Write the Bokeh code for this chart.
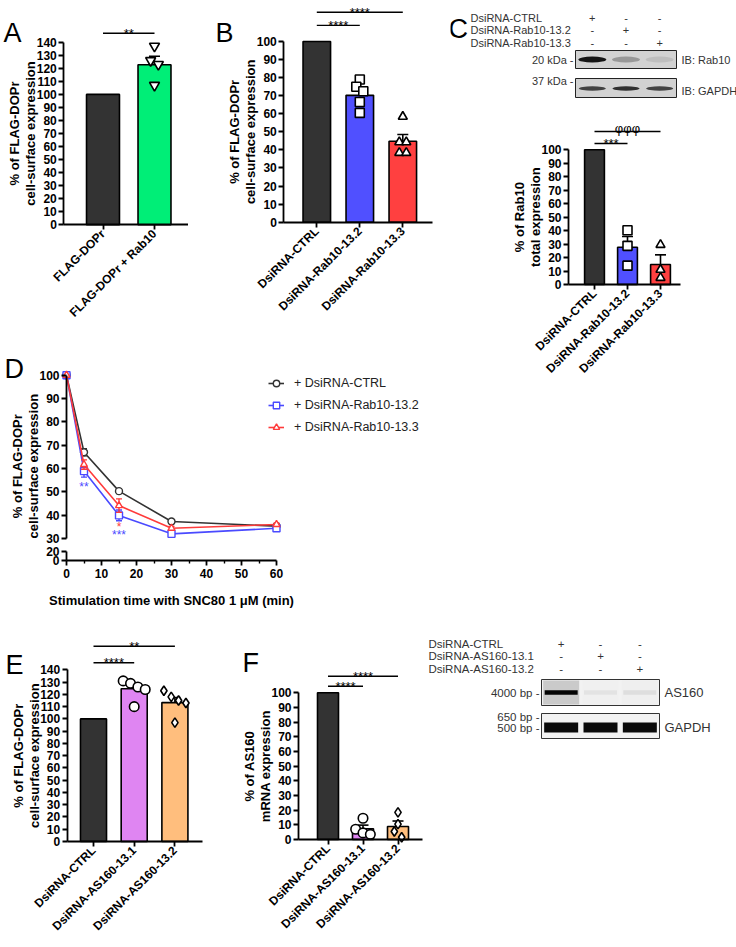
import math
from bokeh.plotting import figure
from bokeh.models import Range1d, FixedTicker, LinearAxis, Legend, LegendItem
from bokeh.layouts import row, column
from bokeh.embed import file_html
from bokeh.resources import INLINE
from bokeh.core.properties import value

FONT = "Liberation Sans"

# ---------------- data ----------------
A_GROUPS = ["FLAG-DOPr", "FLAG-DOPr + Rab10"]
A_MEANS = [100, 122.7]
A_SEMS = [0, 6.6]
A_POINTS = [[], [137, 126, 123, 107]]
A_SIG = [(0, 1, "**")]

B_GROUPS = ["DsiRNA-CTRL", "DsiRNA-Rab10-13.2", "DsiRNA-Rab10-13.3"]
B_MEANS = [100, 70.2, 44.8]
B_SEMS = [0, 3.4, 3.7]
B_POINTS = [[], [79, 75, 72.5, 66.5, 60.5], [58.4, 44.3, 44.3, 38.4, 38.4]]
B_SIG = [(0, 1, "****"), (0, 2, "****")]

C_GROUPS = ["DsiRNA-CTRL", "DsiRNA-Rab10-13.2", "DsiRNA-Rab10-13.3"]
C_MEANS = [100, 27.6, 14.8]
C_SEMS = [0, 8.0, 7.2]
C_POINTS = [[], [40.3, 28.7, 14.0], [29.5, 11.0, 5.0]]
C_SIG = [(0, 1, "***"), (0, 2, "φφφ")]
C_RAB10_BAND = [1.0, 0.30, 0.10]
C_GAPDH_BAND = [0.80, 0.90, 0.80]

D_TIME = [0, 5, 15, 30, 60]
D_NAMES = ["+ DsiRNA-CTRL", "+ DsiRNA-Rab10-13.2", "+ DsiRNA-Rab10-13.3"]
D_CTRL = [100, 67.0, 50.3, 37.3, 35.3]
D_CTRL_SEM = [0, 1.5, 1.0, 0.6, 0.7]
D_R132 = [100, 58.9, 39.9, 32.0, 34.4]
D_R132_SEM = [0, 2.6, 2.3, 0.6, 0.6]
D_R133 = [100, 61.7, 44.1, 34.4, 36.0]
D_R133_SEM = [0, 2.0, 2.9, 0.8, 0.6]
D_STAR_TIME = [5, 15, 15]
D_STAR_LEVEL = [52.0, 34.8, 31.7]
D_STAR_TEXT = ["**", "*", "***"]
D_STAR_SERIES = [1, 2, 1]

E_GROUPS = ["DsiRNA-CTRL", "DsiRNA-AS160-13.1", "DsiRNA-AS160-13.2"]
E_MEANS = [100, 124.6, 113.3]
E_SEMS = [0, 3.6, 4.2]
E_POINTS = [[], [131, 129, 126, 124, 110], [123, 118, 115, 113, 97]]
E_SIG = [(0, 1, "****"), (0, 2, "**")]

F_GROUPS = ["DsiRNA-CTRL", "DsiRNA-AS160-13.1", "DsiRNA-AS160-13.2"]
F_MEANS = [100, 7.3, 8.9]
F_SEMS = [0, 2.5, 3.7]
F_POINTS = [[], [14.5, 7.0, 4.5, 3.5], [18.5, 10.5, 5.5, 1.5]]
F_SIG = [(0, 1, "****"), (0, 2, "****")]
F_AS160_BAND = [1.0, 0.05, 0.07]
F_GAPDH_BAND = [1.0, 1.0, 1.0]

# ---------------- helpers ----------------
DARK = "#333333"


def base_fig(width, height, xr, yr):
    p = figure(width=width, height=height, x_range=xr, y_range=yr,
               output_backend="svg", toolbar_location=None, title=None,
               x_axis_type=None, y_axis_type=None,
               min_border_left=0, min_border_right=0,
               min_border_top=0, min_border_bottom=0)
    p.outline_line_color = None
    p.background_fill_color = "white"
    p.border_fill_color = "white"
    return p


def style_axis(ax, tick_size="12px"):
    ax.axis_line_color = "black"
    ax.axis_line_width = 1.8
    ax.major_tick_line_color = "black"
    ax.major_tick_line_width = 1.8
    ax.major_tick_out = 5
    ax.major_tick_in = 0
    ax.minor_tick_line_color = None
    ax.major_label_text_font = FONT
    ax.major_label_text_font_style = "bold"
    ax.major_label_text_font_size = tick_size
    ax.major_label_text_color = "black"
    ax.major_label_standoff = 2


def put_text(p, x, y, s, size="13px", align="center", baseline="middle",
             color="black", style="normal", angle=0.0):
    p.text(x=[x], y=[y], text=[s], text_align=align, text_baseline=baseline,
           text_font=value(FONT), text_font_size=size, text_color=color,
           text_font_style=style, angle=angle)


def spread(vals, ppu_y, d):
    """Horizontal pixel offsets so that close points sit side by side."""
    order = sorted(range(len(vals)), key=lambda k: -vals[k])
    offs = [0.0] * len(vals)
    clusters = []
    for k in order:
        if clusters and (vals[clusters[-1][-1]] - vals[k]) * ppu_y < 0.6 * d:
            clusters[-1].append(k)
        else:
            clusters.append([k])
    for cl in clusters:
        m = len(cl)
        for r, k in enumerate(cl):
            offs[k] = (r - (m - 1) / 2) * 0.7 * d
    return offs


def bar_panel(groups, means, sems, points, fills, markers, sig, sig_levels, *,
              width, height, axis_px, x_end_px, base_px, ppu_y, first_px, step_px,
              axis_max, ylabel, letter=None, letter_px=None, bar_w=0.64,
              msize=9.5, tick_size="12px", label_size="13px"):
    xs = list(range(1, len(groups) + 1))
    x0 = 1 - first_px / step_px

    def X(px):
        return x0 + px / step_px

    def Y(py):
        return (base_px - py) / ppu_y

    p = base_fig(width, height, Range1d(X(0), X(width)), Range1d(Y(height), Y(0)))
    p.vbar(x=xs, top=means, width=bar_w, fill_color=fills, line_color="black",
           line_width=1.6)
    ex = [x for x, s in zip(xs, sems) if s > 0]
    e0 = [m for m, s in zip(means, sems) if s > 0]
    e1 = [m + s for m, s in zip(means, sems) if s > 0]
    cap = 5.5 / step_px
    p.segment(x0=ex, y0=e0, x1=ex, y1=e1, line_color="black", line_width=1.6)
    p.segment(x0=[x - cap for x in ex], y0=e1, x1=[x + cap for x in ex], y1=e1,
              line_color="black", line_width=1.6)
    for x, vals, mk in zip(xs, points, markers):
        if not vals:
            continue
        offs = spread(vals, ppu_y, msize + 1)
        p.scatter(x=[x + o / step_px for o in offs], y=vals, marker=mk, size=msize,
                  fill_color="white", line_color="black", line_width=1.6)
    for (i, j, txt), lvl in zip(sig, sig_levels):
        p.segment(x0=[xs[i]], y0=[lvl], x1=[xs[j]], y1=[lvl], line_color="black",
                  line_width=1.4)
        lift = 3 if "φ" in txt else 0
        put_text(p, (xs[i] + xs[j]) / 2, lvl + lift / ppu_y, txt, size="13px",
                 baseline="alphabetic")
    yax = LinearAxis(fixed_location=X(axis_px), bounds=(0, axis_max),
                     ticker=FixedTicker(ticks=list(range(0, axis_max + 1, 10))))
    style_axis(yax, tick_size)
    p.add_layout(yax, "left")
    xax = LinearAxis(fixed_location=0, bounds=(X(axis_px), X(x_end_px)),
                     ticker=FixedTicker(ticks=xs),
                     major_label_overrides={x: g for x, g in zip(xs, groups)},
                     major_label_orientation=math.pi / 4)
    style_axis(xax, tick_size)
    p.add_layout(xax, "below")
    for k, line in enumerate(ylabel.split("\n")):
        put_text(p, X(axis_px - 49 + 16 * k), axis_max / 2, line, size=label_size,
                 style="bold", angle=math.pi / 2)
    if letter:
        put_text(p, X(letter_px[0]), Y(letter_px[1]), letter, size="27px",
                 align="left", baseline="alphabetic")
    return p


FLAG_LABEL = "% of FLAG-DOPr\ncell-surface expression"

# panel origins (page pixels): A (0,0)  B (188,0)  C (450,0/100)  D (0,340)
#                               E (0,608)  F (230,608)  gel (426,608)
pA = bar_panel(A_GROUPS, A_MEANS, A_SEMS, A_POINTS, [DARK, "#00ee77"],
               [None, "inverted_triangle"], A_SIG, [146.9], width=188, height=340,
               axis_px=63.3, x_end_px=188, base_px=224.3, ppu_y=1.304,
               first_px=102.5, step_px=51.5, axis_max=140, ylabel=FLAG_LABEL,
               letter="A", letter_px=(3, 32), msize=10)

pB = bar_panel(B_GROUPS, B_MEANS, B_SEMS, B_POINTS, [DARK, "#5050ff", "#ff4040"],
               [None, "square", "triangle"], B_SIG, [108.9, 116.2], width=262,
               height=340, axis_px=95.3, x_end_px=244, base_px=221.7, ppu_y=1.807,
               first_px=128.3, step_px=43, axis_max=100, ylabel=FLAG_LABEL,
               letter="B", letter_px=(27, 32), msize=9)

pC = bar_panel(C_GROUPS, C_MEANS, C_SEMS, C_POINTS, [DARK, "#5050ff", "#ff4040"],
               [None, "square", "triangle"], C_SIG, [104.7, 113.6], width=286,
               height=508, axis_px=118, x_end_px=230, base_px=184, ppu_y=1.347,
               first_px=144, step_px=33, axis_max=100,
               ylabel="% of Rab10\ntotal expression", bar_w=0.6, msize=9)

pE = bar_panel(E_GROUPS, E_MEANS, E_SEMS, E_POINTS, [DARK, "#df85f2", "#ffbe7d"],
               [None, "circle", "diamond"], E_SIG, [145.8, 159.3], width=230,
               height=338, axis_px=66.7, x_end_px=201.7, base_px=233, ppu_y=1.226,
               first_px=93, step_px=40.7, axis_max=140, ylabel=FLAG_LABEL,
               letter="E", letter_px=(5, 56), msize=9.5)

pF = bar_panel(F_GROUPS, F_MEANS, F_SEMS, F_POINTS, [DARK, "#df85f2", "#ffbe7d"],
               [None, "circle", "diamond"], F_SIG, [104.5, 111.3], width=196,
               height=338, axis_px=68, x_end_px=192, base_px=231, ppu_y=1.467,
               first_px=97.5, step_px=35, axis_max=100,
               ylabel="% of AS160\nmRNA expression", letter="F", letter_px=(12, 54),
               bar_w=0.6, msize=9.5)

# ---------------- panel D (time course, broken y axis) ----------------
D_COLORS = ["#333333", "#4a4aff", "#ff3b3b"]
D_MARKERS = ["circle", "square", "triangle"]
D_W, D_H = 450, 268
D_AX = 66          # pixel column of the y axis (t = 0)
D_PPU_X = 3.5
D_HI_BASE, D_PPU_HI = 198, 2.333    # pixel row of value 30, px per unit (upper part)
D_LO_BASE, D_PPU_LO = 220, 0.465    # pixel row of value 0, px per unit (lower part)


def DX(px):
    return (px - D_AX) / D_PPU_X


def DY(py):
    return 30 + (D_HI_BASE - py) / D_PPU_HI


def DL(py):
    return (D_LO_BASE - py) / D_PPU_LO


pD = base_fig(D_W, D_H, Range1d(DX(0), DX(D_W)), Range1d(DY(D_H), DY(0)))
pD.extra_y_ranges = {"low": Range1d(DL(D_H), DL(0))}
items = []
for name, vals, sems, col, mk in zip(D_NAMES, [D_CTRL, D_R132, D_R133],
                                     [D_CTRL_SEM, D_R132_SEM, D_R133_SEM],
                                     D_COLORS, D_MARKERS):
    ln = pD.line(D_TIME, vals, line_color=col, line_width=1.6)
    idx = [k for k, s in enumerate(sems) if s > 0]
    tx = [D_TIME[k] for k in idx]
    lo = [vals[k] - sems[k] for k in idx]
    hi = [vals[k] + sems[k] for k in idx]
    cap = 3 / D_PPU_X
    pD.segment(x0=tx, y0=lo, x1=tx, y1=hi, line_color=col, line_width=1.4)
    pD.segment(x0=[t - cap for t in tx], y0=hi, x1=[t + cap for t in tx], y1=hi,
               line_color=col, line_width=1.4)
    pD.segment(x0=[t - cap for t in tx], y0=lo, x1=[t + cap for t in tx], y1=lo,
               line_color=col, line_width=1.4)
    sc = pD.scatter(D_TIME, vals, marker=mk, size=7, fill_color="white",
                    line_color=col, line_width=1.4)
    items.append(LegendItem(label=name, renderers=[ln, sc]))
pD.text(x=D_STAR_TIME, y=D_STAR_LEVEL, text=D_STAR_TEXT, text_align="center",
        text_baseline="middle", text_font=value(FONT), text_font_size="12px",
        text_color=[D_COLORS[s] for s in D_STAR_SERIES])
legend = Legend(items=items, location=(268, 173), padding=0, margin=0, spacing=6,
                glyph_width=16, glyph_height=16, label_height=16, label_standoff=10,
                background_fill_alpha=0, border_line_color=None,
                label_text_font=FONT, label_text_font_size="12.5px",
                label_text_color="#222222")
pD.add_layout(legend)
ax_hi = LinearAxis(fixed_location=0, bounds=(30, 100),
                   ticker=FixedTicker(ticks=list(range(30, 101, 10))))
style_axis(ax_hi)
pD.add_layout(ax_hi, "left")
ax_lo = LinearAxis(y_range_name="low", fixed_location=0, bounds=(0, 20),
                   ticker=FixedTicker(ticks=[0, 20]))
style_axis(ax_lo)
pD.add_layout(ax_lo, "left")
ax_t = LinearAxis(y_range_name="low", fixed_location=0, bounds=(0, 60),
                  ticker=FixedTicker(ticks=list(range(0, 61, 10)),
                                     minor_ticks=list(range(5, 60, 10))))
style_axis(ax_t)
ax_t.minor_tick_line_color = "black"
ax_t.minor_tick_line_width = 1.4
ax_t.minor_tick_out = 3
ax_t.minor_tick_in = 0
ax_t.major_label_standoff = 3
pD.add_layout(ax_t, "below")
for k, line in enumerate(FLAG_LABEL.split("\n")):
    put_text(pD, DX(D_AX - 49 + 16 * k), 61, line, style="bold", angle=math.pi / 2)
put_text(pD, 30, DY(260), "Stimulation time with SNC80 1 μM (min)", style="bold")
put_text(pD, DX(4), DY(28), "D", size="27px", align="left", baseline="alphabetic")

# ---------------- blots ----------------
BLOT_TXT = "#333333"


def blot_fig(width, height, xr, yr):
    return base_fig(width, height, Range1d(*xr), Range1d(*yr))


def txt(p, x, y, s, size="11px", align="left", color=BLOT_TXT, baseline="middle"):
    put_text(p, x, y, s, size=size, align=align, baseline=baseline, color=color)


# C blot (coordinates are page pixels)
pCb = blot_fig(286, 100, (450, 736), (100, 0))
txt(pCb, 448, 28, "C", size="27px", color="black", baseline="alphabetic")
c_box_l, c_box_r = 575, 676
c_lanes = [c_box_l + (k + 0.5) * (c_box_r - c_box_l) / 3 for k in range(3)]
c_rows = [17, 29.5, 42]
for r, g in enumerate(C_GROUPS):
    txt(pCb, 470, c_rows[r], g)
    for k in range(3):
        txt(pCb, c_lanes[k], c_rows[r], "+" if k == r else "-", align="center")
pCb.quad(left=[c_box_l], right=[c_box_r], top=[50], bottom=[68],
         fill_color="#d2d2d2", line_color="#222222", line_width=1)
pCb.quad(left=[c_box_l], right=[c_box_r], top=[78], bottom=[97],
         fill_color="#d2d2d2", line_color="#222222", line_width=1)
pCb.ellipse(x=c_lanes, y=[59] * 3, width=28, height=6, fill_color="#151515",
            fill_alpha=C_RAB10_BAND, line_color=None)
pCb.ellipse(x=c_lanes, y=[88] * 3, width=27, height=4.5, fill_color="#1e1e1e",
            fill_alpha=C_GAPDH_BAND, line_color=None)
txt(pCb, 573, 59, "20 kDa -", align="right")
txt(pCb, 573, 80, "37 kDa -", align="right")
txt(pCb, 681, 59, "IB: Rab10")
txt(pCb, 681, 90, "IB: GAPDH")

# F gel
pFg = blot_fig(310, 338, (426, 736), (946, 608))
f_box_l, f_box_r = 541, 659
f_lanes = [f_box_l + (k + 0.5) * (f_box_r - f_box_l) / 3 for k in range(3)]
f_rows = [643, 655.5, 668]
for r, g in enumerate(F_GROUPS):
    txt(pFg, 428, f_rows[r], g, size="11.5px")
    for k in range(3):
        txt(pFg, f_lanes[k], f_rows[r], "+" if k == r else "-", align="center",
            size="11.5px")
pFg.quad(left=[f_box_l], right=[f_box_r], top=[679], bottom=[705],
         fill_color="#f2f2f2", line_color="#333333", line_width=1)
pFg.quad(left=[f_box_l], right=[f_box_r], top=[713], bottom=[738],
         fill_color="#f2f2f2", line_color="#333333", line_width=1)
pFg.rect(x=f_lanes, y=[692] * 3, width=36, height=24, fill_color="#808080",
         fill_alpha=[0.35 * b for b in F_AS160_BAND], line_color=None)
pFg.rect(x=f_lanes, y=[692] * 3, width=33, height=4.5, fill_color="#050505",
         fill_alpha=F_AS160_BAND, line_color=None)
pFg.rect(x=f_lanes, y=[727] * 3, width=34, height=10, fill_color="#0a0a0a",
         fill_alpha=F_GAPDH_BAND, line_color=None)
txt(pFg, 539, 692, "4000 bp -", align="right", size="11.5px")
txt(pFg, 539, 716, "650 bp -", align="right", size="11.5px")
txt(pFg, 539, 727, "500 bp -", align="right", size="11.5px")
txt(pFg, 664, 692, "AS160", size="13px")
txt(pFg, 664, 727, "GAPDH", size="13px")

# ---------------- layout ----------------
left_col = column(row(pA, pB), pD)
c_col = column(pCb, pC)
layout = column(row(left_col, c_col), row(pE, pF, pFg))

with open("out.html", "w") as fh:
    fh.write(file_html(layout, INLINE, title="Figure"))
